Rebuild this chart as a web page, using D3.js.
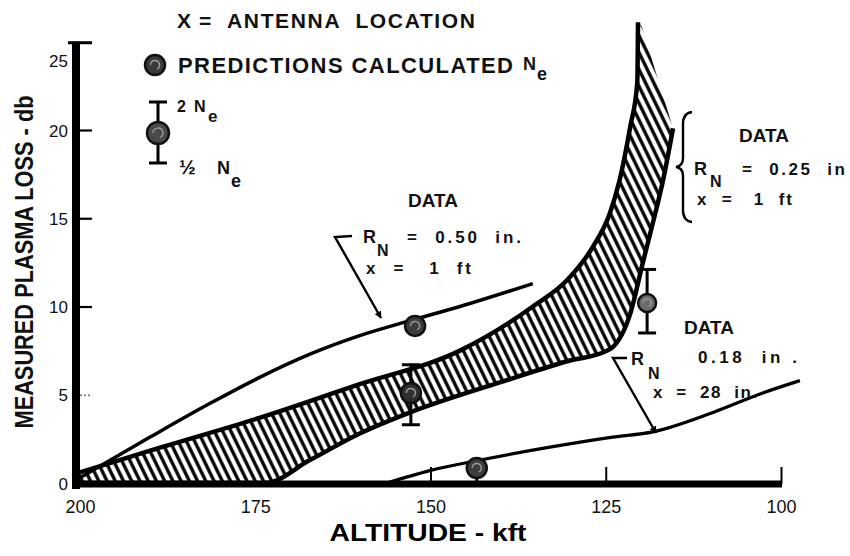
<!DOCTYPE html>
<html>
<head>
<meta charset="utf-8">
<script src="https://cdn.jsdelivr.net/npm/d3@7"></script>
<style>
  html, body { margin: 0; padding: 0; background: #fff; }
  svg { display: block; font-family: "Liberation Sans", Arial, sans-serif; }
  text { white-space: pre; }
</style>
</head>
<body>
<svg id="chart" width="850" height="556"></svg>
<script>
// Axis ticks
const altitudeTicks = [200, 175, 150, 125, 100];   // kft
const lossTicks = [0, 5, 10, 15, 20, 25];           // db

// Hatched band of data, R_N = 0.25 in, x = 1 ft
const bandUpperAlt  = [200, 188.6, 174.3, 160.1, 145.8, 135.4, 130.5, 126.8, 124.4, 123.0, 121.5, 120.5, 120.4];
const bandUpperLoss = [0.6, 2.0, 3.7, 5.6, 7.5, 10.0, 11.5, 13.4, 15.3, 17.2, 20.2, 22.7, 26.1];
const bandLowerAlt  = [200, 173.6, 167.2, 160.1, 152.9, 140.1, 130.5, 124.8, 124.0, 121.5, 119.7, 118.3, 116.8, 115.4];
const bandLowerLoss = [0, 0, 1.3, 2.8, 4.0, 5.7, 6.9, 7.5, 7.7, 9.6, 12.5, 14.7, 17.2, 20.1];
const bandFadeAlt = [119.9];
const bandFadeLoss = [25.9];

// Data curve, R_N = 0.50 in, x = 1 ft
const curveA_alt  = [200, 190.0, 181.5, 174.3, 167.2, 160.1, 152.9, 145.8, 135.4];
const curveA_loss = [0.3, 2.6, 4.5, 6.0, 7.3, 8.35, 9.2, 10.0, 11.3];

// Data curve, R_N = 0.18 in, x = 28 in
const curveB_alt  = [156.2, 150.1, 142.9, 133.4, 124.0, 118.3, 109.7, 102.6, 97.3];
const curveB_loss = [0, 0.7, 1.3, 2.0, 2.6, 2.9, 4.0, 5.1, 5.8];

// Predictions calculated from N_e
const predAlt  = [152.2, 143.4];
const predLoss = [8.9, 0.85];

// Predictions with 2 N_e / half N_e range
const rangeAlt  = [152.8, 119.1];
const rangeLoss = [5.1, 10.2];
const rangeHigh = [6.7, 12.1];
const rangeLow  = [3.3, 8.5];

const svg = d3.select("#chart");
const x = d3.scaleLinear().domain([200, 100]).range([80, 781]);
const y = d3.scaleLinear().domain([0, 20]).range([483, 130]);

const zip = (a, b) => a.map((v, i) => [v, b[i]]);

// hatch pattern
const defs = svg.append("defs");
defs.append("pattern")
  .attr("id", "hatch")
  .attr("patternUnits", "userSpaceOnUse")
  .attr("width", 7.4).attr("height", 7.4)
  .attr("patternTransform", "rotate(-26)")
  .append("line")
  .attr("x1", 3.7).attr("y1", -2).attr("x2", 3.7).attr("y2", 10)
  .attr("stroke", "#000").attr("stroke-width", 3.3);

defs.append("marker")
  .attr("id", "arrow")
  .attr("viewBox", "0 0 10 10")
  .attr("refX", 9).attr("refY", 5)
  .attr("markerWidth", 9).attr("markerHeight", 7)
  .attr("markerUnits", "userSpaceOnUse")
  .attr("orient", "auto")
  .append("path").attr("d", "M0,0L10,5L0,10Z").attr("fill", "#000");

const line = d3.line().x(d => x(d[0])).y(d => y(d[1])).curve(d3.curveMonotoneX);
const straight = d3.line().x(d => x(d[0])).y(d => y(d[1]));

// ---- band ----
const upper = zip(bandUpperAlt, bandUpperLoss);
const lower = zip(bandLowerAlt, bandLowerLoss);
const fade = zip(bandFadeAlt, bandFadeLoss);
const bandPath = line(upper) +
  straight(fade.concat([lower[lower.length - 1]])).replace(/^M/, "L") +
  line(lower.slice().reverse()).replace(/^M/, "L") + "Z";
svg.append("path").attr("d", bandPath).attr("fill", "url(#hatch)");
svg.append("path").attr("d", line(upper)).attr("fill", "none")
  .attr("stroke", "#000").attr("stroke-width", 4.5);
svg.append("path").attr("d", line(lower)).attr("fill", "none")
  .attr("stroke", "#000").attr("stroke-width", 4.5);

// ---- data curves ----
svg.append("path").attr("d", line(zip(curveA_alt, curveA_loss))).attr("fill", "none")
  .attr("stroke", "#000").attr("stroke-width", 3.5);
svg.append("path").attr("d", line(zip(curveB_alt, curveB_loss))).attr("fill", "none")
  .attr("stroke", "#000").attr("stroke-width", 3.2);

// ---- axes ----
const yAxis = svg.append("g").attr("transform", "translate(76,0)")
  .call(d3.axisLeft(y).tickValues(lossTicks).tickSizeInner(-16).tickSizeOuter(0).tickPadding(8));
yAxis.select(".domain").remove();
yAxis.selectAll(".tick line").attr("stroke-width", 2.2)
  .attr("x1", 4)
  .attr("display", d => (d === 0 || d === 25) ? "none" : null)
  .attr("stroke-dasharray", d => d === 5 ? "2,2" : null)
  .attr("stroke", d => d === 5 ? "#888" : "#000");
yAxis.selectAll(".tick text")
  .attr("font-size", 17).attr("fill", "#111")
  .attr("dy", d => d === 25 ? "1.45em" : "0.36em");
yAxis.append("rect").attr("x", -4).attr("width", 8)
  .attr("y", y(25)).attr("height", y(0) - y(25) + 6).attr("fill", "#000");
yAxis.append("line").attr("x1", -8).attr("x2", 16)
  .attr("y1", y(25) + 1).attr("y2", y(25) + 1)
  .attr("stroke", "#000").attr("stroke-width", 3);

const xAxis = svg.append("g").attr("transform", `translate(0,${y(0) + 1})`)
  .call(d3.axisBottom(x).tickValues(altitudeTicks).tickSizeInner(-17).tickSizeOuter(0).tickPadding(16));
xAxis.select(".domain").remove();
xAxis.selectAll(".tick line").attr("stroke-width", 2)
  .attr("display", d => (d === 200 || d === 175) ? "none" : null);
xAxis.selectAll(".tick text").attr("font-size", 18).attr("fill", "#111");
xAxis.append("rect").attr("x", x(200) - 8).attr("width", x(100) - x(200) + 9)
  .attr("y", -3.5).attr("height", 7).attr("fill", "#000");

// ---- prediction symbols ----
function disk(g, cx, cy, r, fill) {
  g.append("circle").attr("cx", cx).attr("cy", cy).attr("r", r)
    .attr("fill", fill).attr("stroke", "#111").attr("stroke-width", 2.5);
  g.append("path")
    .attr("d", `M${cx - r * 0.45},${cy}A${r * 0.45},${r * 0.45} 0 1 1 ${cx + r * 0.2},${cy + r * 0.4}`)
    .attr("fill", "none").attr("stroke", "#9a9a9a").attr("stroke-width", 1.4);
}
function rangeBar(g, cx, cy, yTop, yBot, r, fill) {
  g.append("line").attr("x1", cx).attr("x2", cx).attr("y1", yTop).attr("y2", yBot)
    .attr("stroke", "#000").attr("stroke-width", 3);
  [yTop, yBot].forEach(v => g.append("line")
    .attr("x1", cx - 9).attr("x2", cx + 9).attr("y1", v).attr("y2", v)
    .attr("stroke", "#000").attr("stroke-width", 3));
  disk(g, cx, cy, r, fill);
}

const marks = svg.append("g");
predAlt.forEach((a, i) => {
  if (predLoss[i] < 2) {
    marks.append("line").attr("x1", x(a)).attr("x2", x(a))
      .attr("y1", y(predLoss[i])).attr("y2", y(0))
      .attr("stroke", "#000").attr("stroke-width", 3);
  }
  disk(marks, x(a), y(predLoss[i]), 10, "#3d3d3d");
});
rangeAlt.forEach((a, i) => {
  rangeBar(marks, x(a), y(rangeLoss[i]), y(rangeHigh[i]), y(rangeLow[i]),
    i === 0 ? 10 : 9, i === 0 ? "#2f2f2f" : "#6a6a6a");
});

// ---- legend ----
const leg = svg.append("g").attr("fill", "#111");
leg.append("text").attr("x", 177).attr("y", 28).attr("font-size", 21).attr("font-weight", "bold").text("X");
leg.append("text").attr("x", 199).attr("y", 28).attr("font-size", 21).attr("font-weight", "bold").text("=");
leg.append("text").attr("x", 227).attr("y", 28).attr("font-size", 21).attr("font-weight", "bold")
  .attr("textLength", 248).attr("lengthAdjust", "spacing").text("ANTENNA  LOCATION");

disk(leg, 155, 65, 10, "#3a3a3a");
leg.append("text").attr("x", 178).attr("y", 73).attr("font-size", 22).attr("font-weight", "bold")
  .attr("textLength", 335).attr("lengthAdjust", "spacing").text("PREDICTIONS CALCULATED");
leg.append("text").attr("x", 523).attr("y", 70).attr("font-size", 18).attr("font-weight", "bold").text("N");
leg.append("text").attr("x", 537).attr("y", 80).attr("font-size", 18).attr("font-weight", "bold").text("e");

rangeBar(leg, 158, 133, 102, 163, 11, "#4a4a4a");
leg.append("text").attr("x", 177).attr("y", 112).attr("font-size", 16).attr("font-weight", "bold").text("2");
leg.append("text").attr("x", 194).attr("y", 112).attr("font-size", 16).attr("font-weight", "bold").text("N");
leg.append("text").attr("x", 208).attr("y", 122).attr("font-size", 17).attr("font-weight", "bold").text("e");
leg.append("text").attr("x", 179).attr("y", 174).attr("font-size", 20).attr("font-weight", "bold").text("½");
leg.append("text").attr("x", 217).attr("y", 174).attr("font-size", 18).attr("font-weight", "bold").text("N");
leg.append("text").attr("x", 231).attr("y", 187).attr("font-size", 18).attr("font-weight", "bold").text("e");

// ---- curve annotations ----
const ann = svg.append("g").attr("fill", "#111").attr("font-weight", "bold");
function label(g, lines) {
  lines.forEach(l => {
    const t = g.append("text").attr("x", l.x).attr("y", l.y).attr("font-size", l.size || 17)
      .attr("text-anchor", l.anchor || "start").text(l.t);
    if (l.w) t.attr("textLength", l.w).attr("lengthAdjust", "spacing");
  });
}

label(ann, [
  { t: "DATA", x: 433, y: 207, size: 19, anchor: "middle" },
  { t: "R", x: 363, y: 243, size: 18 },
  { t: "N", x: 377, y: 256, size: 16 },
  { t: "=  0.50  in.", x: 407, y: 243, w: 114 },
  { t: "x  =   1  ft", x: 366, y: 274, w: 105 },

  { t: "DATA", x: 709, y: 334, size: 19, anchor: "middle" },
  { t: "R", x: 631, y: 365, size: 18 },
  { t: "N", x: 648, y: 379, size: 16 },
  { t: "0.18  in .", x: 698, y: 363, w: 99 },
  { t: "x  =  28  in.", x: 653, y: 398, w: 104 },

  { t: "DATA", x: 764, y: 142, size: 19, anchor: "middle" },
  { t: "R", x: 694, y: 175, size: 18 },
  { t: "N", x: 710, y: 187, size: 16 },
  { t: "=  0.25  in", x: 742, y: 175, w: 103 },
  { t: "x  =   1  ft", x: 697, y: 205, w: 95 }
]);

// leader arrows
const leaders = svg.append("g").attr("fill", "none").attr("stroke", "#000").attr("stroke-width", 2.4);
leaders.append("path").attr("d", "M352,236L335,237L381,318").attr("marker-end", "url(#arrow)");
leaders.append("path").attr("d", "M627,358L613,358L656,433").attr("marker-end", "url(#arrow)");
// brace grouping the 0.25 in data
leaders.append("path")
  .attr("d", "M692,112Q683,113 683,124L683,158Q683,166 676,167Q683,168 683,176L683,210Q683,221 692,222");

// ---- axis titles ----
svg.append("text").attr("x", 428).attr("y", 541).attr("text-anchor", "middle")
  .attr("font-size", 24).attr("font-weight", "bold").attr("fill", "#000")
  .attr("textLength", 197).attr("lengthAdjust", "spacingAndGlyphs")
  .text("ALTITUDE - kft");
svg.append("text").attr("transform", "translate(33,262) rotate(-90)").attr("text-anchor", "middle")
  .attr("font-size", 26).attr("font-weight", "bold").attr("fill", "#111")
  .attr("textLength", 333).attr("lengthAdjust", "spacingAndGlyphs")
  .text("MEASURED PLASMA LOSS - db");
</script>
</body>
</html>
